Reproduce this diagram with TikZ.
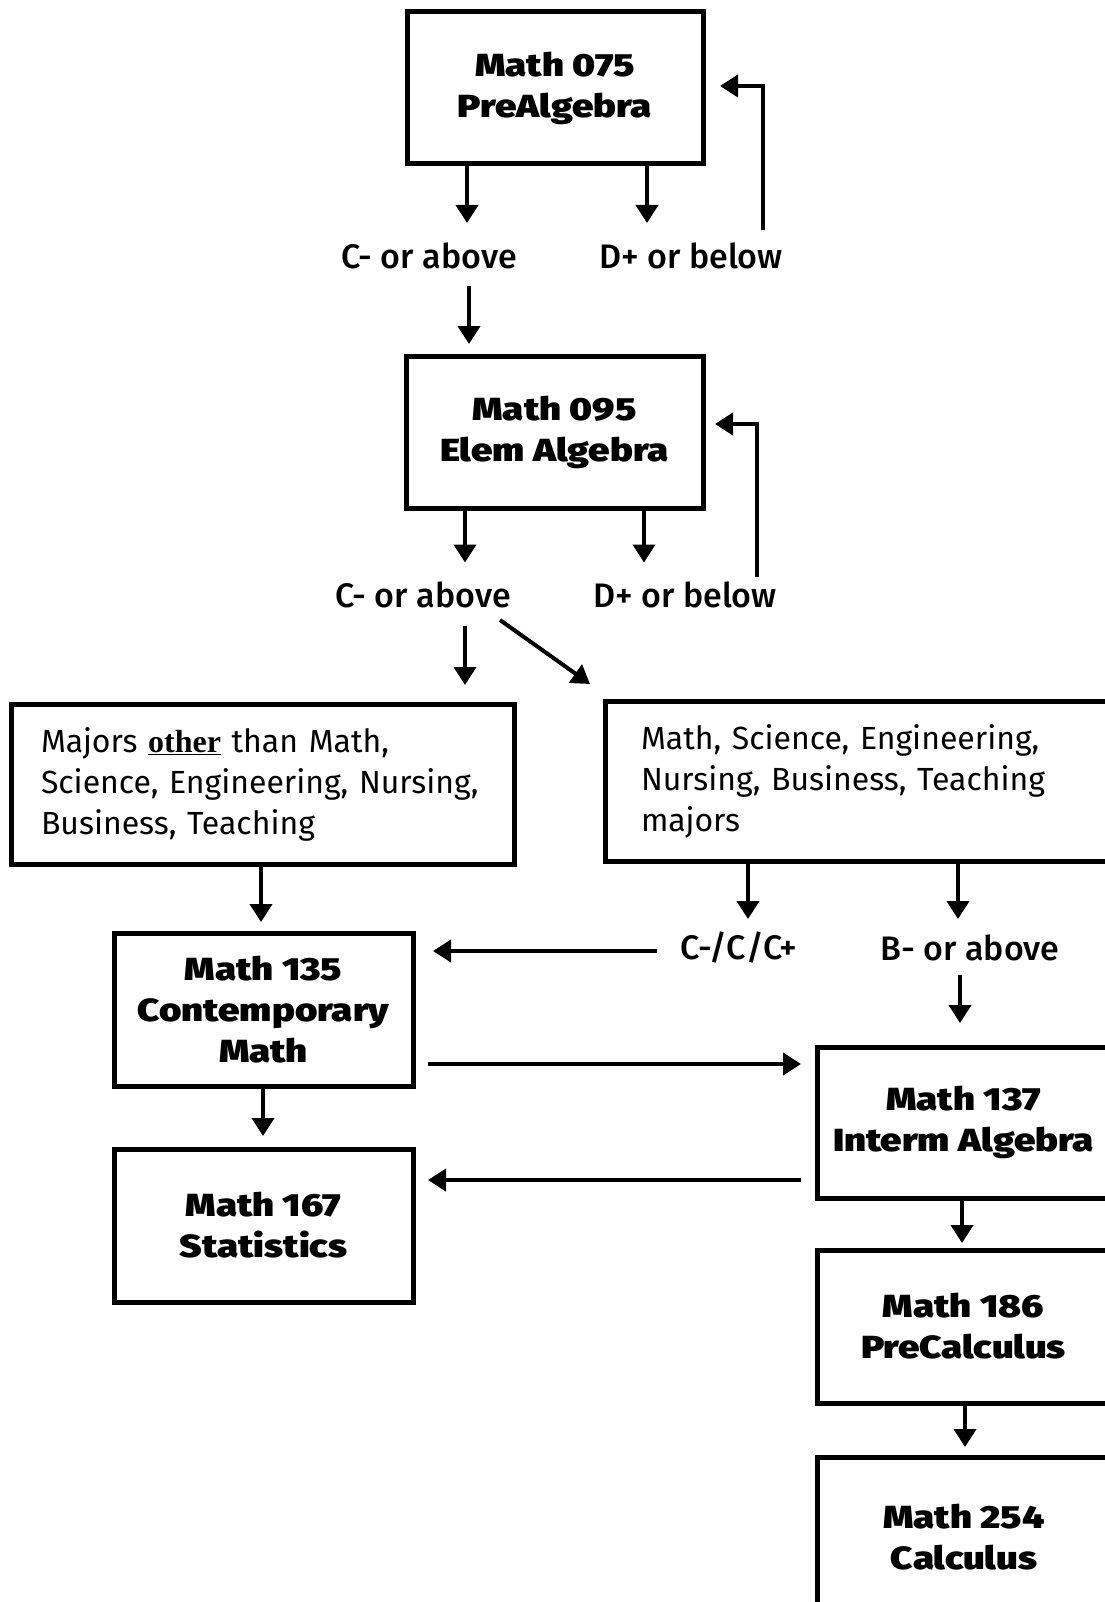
\documentclass[tikz,border=0pt]{standalone}
\usepackage{fontspec}
\setmainfont{Fira Sans}
\newfontfamily\otherfont{Liberation Serif}
\IfFontExistsTF{Fira Sans Black}
        {\newfontfamily\coursefont{Fira Sans Black}[FakeStretch=1.2]}
        {\newfontfamily\coursefont{Fira Sans}[FakeStretch=1.28, FakeBold=1.5]}
\IfFontExistsTF{Fira Sans Medium}
        {\newfontfamily\gradefont{Fira Sans Medium}}
        {\newfontfamily\gradefont{Fira Sans}}
\usetikzlibrary{arrows.meta}

\tikzset{
        course/.style={draw, line width=5pt, align=center, inner sep=0pt,
                font=\fontsize{32}{41}\coursefont},
        majors/.style={draw, line width=5pt, align=left, inner ysep=0pt,
                minimum height=160pt, font=\fontsize{32}{41}\selectfont},
        grade/.style={inner sep=0pt, font=\fontsize{34}{37}\gradefont},
        arr/.style={line width=4pt, -{Triangle[width=22pt,length=18pt]}}
}

\begin{document}
\begin{tikzpicture}[x=1pt, y=-1pt]

        \useasboundingbox (0,0) rectangle (1104,1602);

        % courses
        \node [course, minimum width=296pt, minimum height=152pt] (m075) at (555,88) {Math 075\\PreAlgebra};
        \node [course, minimum width=297pt, minimum height=152pt] (m095) at (554.5,432) {Math 095\\Elem Algebra};
        \node [course, minimum width=299pt, minimum height=153pt] (m135) at (263.5,1009.5) {Math 135\\Contemporary\\Math};
        \node [course, minimum width=299pt, minimum height=153pt] (m167) at (263.5,1225.5) {Math 167\\Statistics};
        \node [course, minimum width=293pt, minimum height=151pt] (m137) at (963.5,1122.5) {Math 137\\Interm Algebra};
        \node [course, minimum width=293pt, minimum height=153pt] (m186) at (963.5,1326.5) {Math 186\\PreCalculus};
        \node [course, minimum width=293pt, minimum height=160pt] (m254) at (964,1537) {Math 254\\Calculus};

        % majors
        \node [majors, inner xsep=30pt, text width=443pt] (other) at (262.5,784)
                {Majors {\otherfont\bfseries\underline{other}} than Math,\\Science, Engineering, Nursing,\\Business, Teaching};
        \node [majors, inner xsep=36pt, text width=433pt] (msent) at (857.5,781)
                {Math, Science, Engineering,\\Nursing, Business, Teaching\\majors};

        % grades
        \node [grade] (up075) at (429,256) {C- or above};
        \node [grade] (dn075) at (691,256) {D+ or below};
        \node [grade] (up095) at (423,595) {C- or above};
        \node [grade] (dn095) at (685,595) {D+ or below};
        \node [grade] (cgr) at (739,948) {C-/C/C+};
        \node [grade] (bgr) at (970,948) {B- or above};

        % Math 075
        \draw [arr] (m075.south -| 467,0) -- ++(0,56.5);
        \draw [arr] (m075.south -| 647,0) -- ++(0,56.5);
        \coordinate (fb075) at (763,230);
        \draw [arr, shorten >=14.5pt] (fb075) |- ([yshift=2pt]m075.east);
        \draw [arr, shorten >=9.5pt] (469,286) -- (m095.north -| 469,0);

        % Math 095
        \draw [arr] (m095.south -| 465,0) -- ++(0,52);
        \draw [arr] (m095.south -| 644,0) -- ++(0,52);
        \coordinate (fb095) at (757,577);
        \draw [arr, shorten >=9.5pt] (fb095) |- ([yshift=8pt]m095.east);
        \draw [arr, shorten >=16.5pt] (465,626) -- (other.north -| 465,0);
        \draw [arr] (500,620) -- (590,684);

        % majors
        \draw [arr] (other.south -| 261,0) -- ++(0,55.5);
        \draw [arr] (msent.south -| 748,0) -- ++(0,55.5);
        \draw [arr] (msent.south -| 958,0) -- ++(0,55.5);
        \draw [arr, shorten >=17.5pt] (657,951) -- (m135.east |- 657,951);
        \draw [arr, shorten >=21.5pt] (960,975) -- (m137.north -| 960,0);

        % across and down
        \draw [arr, shorten <=12.5pt, shorten >=13.5pt] ([yshift=-54.5pt]m135.east) -- ([yshift=-54.5pt]m135.east -| m137.west);
        \draw [arr, shorten <=13.5pt, shorten >=12.5pt] ([yshift=-57.5pt]m137.west) -- ([yshift=-57.5pt]m137.west -| m167.east);
        \draw [arr] (m135.south -| 263,0) -- ++(0,47.5);
        \draw [arr] (m137.south -| 962,0) -- ++(0,42.5);
        \draw [arr] (m186.south -| 965,0) -- ++(0,41.5);

\end{tikzpicture}
\end{document}
